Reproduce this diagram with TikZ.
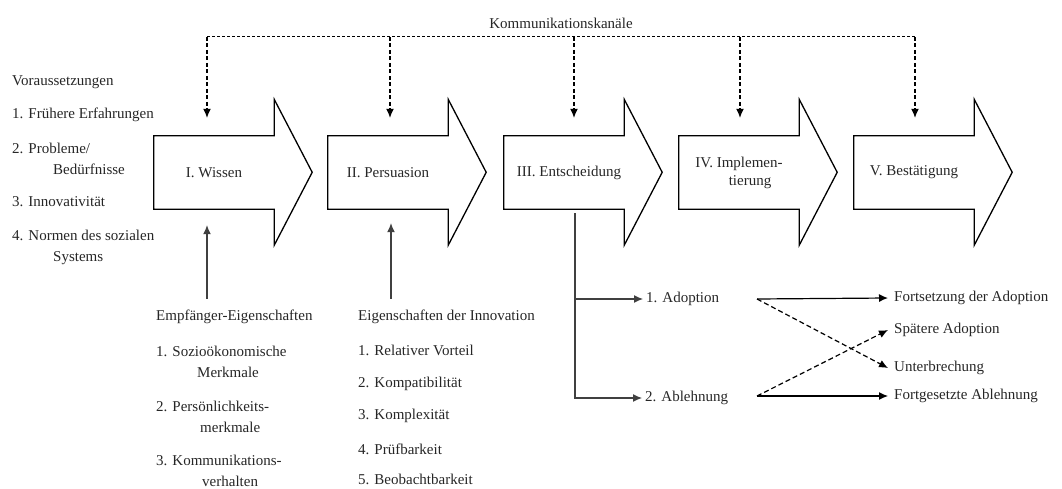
\documentclass[tikz,border=0pt]{standalone}
\usepackage{fontspec}
\setmainfont{Liberation Serif}
\usetikzlibrary{arrows.meta}
\tikzstyle{stagebox}=[font=\fontsize{15}{18}\selectfont, text=black!85, minimum width=120pt, minimum height=73pt, inner sep=0pt, align=center]
\tikzstyle{stage}=[draw, line width=1.3pt, line join=miter]
\tikzstyle{txt}=[font=\fontsize{15}{21.5}\selectfont, text=black!85, inner sep=0pt, anchor=west, align=left]
\tikzstyle{edge}=[draw, line width=1.2pt, -{Latex[length=9pt,width=8pt]}]
\tikzstyle{drop}=[edge, dash pattern=on 4pt off 2.5pt]
\tikzstyle{cross}=[edge, dash pattern=on 5pt off 3pt]
\tikzstyle{channel}=[draw, line width=1pt, dash pattern=on 3pt off 2pt]

\begin{document}
\begin{tikzpicture}[x=1pt, y=-1pt]
    \useasboundingbox (0,0) rectangle (1062,489);

    % the five stages
    \foreach \pos/ \name / \label in {154/wissen/{I. Wissen}, 328/pers/{II. Persuasion}, 504/ents/{\hspace*{10pt}III. Entscheidung}, 679/impl/{IV. Implemen-\\\hspace*{22pt}tierung}, 854/best/{V. Bestätigung}}
    {
        \node[stagebox] (\name) at (\pos+60,172.5) {\label};
        \draw[stage] (\name.north west) -- (\name.north east) -- ++(0,-36.5) -- ++(38,73) -- ++(-38,73) -- (\name.south east) -- (\name.south west) -- cycle;
    }

    % communication channels
    \node[txt, anchor=center] (kanal) at (561,23) {Kommunikationskanäle};
    \coordinate (kstart) at (207,37);
    \coordinate (kend) at (915,37);
    \draw[channel] (kstart) -- (kend);
    \foreach \name/ \dx in {wissen/-7, pers/2, ents/10, impl/1, best/1}
        \draw[drop] ([xshift=\dx pt]\name.north |- kstart) -- ([xshift=\dx pt, yshift=18pt]\name.north);

    % preconditions
    \foreach \pos/ \name / \label in {82/vor/Voraussetzungen, 115/v1/{1. Frühere Erfahrungen}, 159/v2/{2. Probleme/\\\hspace*{41pt}Bedürfnisse}, 202/v3/{3. Innovativität}, 247.5/v4/{4. Normen des sozialen\\\hspace*{41pt}Systems}}
        \node[txt] (\name) at (12,\pos) {\label};

    % receiver characteristics
    \foreach \pos/ \name / \label in {317/empf/Empfänger-Eigenschaften, 362/e1/{1. Sozioökonomische\\\hspace*{41pt}Merkmale}, 417/e2/{2. Persönlichkeits-\\\hspace*{44pt}merkmale}, 471/e3/{3. Kommunikations-\\\hspace*{46pt}verhalten}}
        \node[txt] (\name) at (156,\pos) {\label};

    % characteristics of the innovation
    \foreach \pos/ \name / \label in {317/inno/Eigenschaften der Innovation, 350/i1/{1. Relativer Vorteil}, 384/i2/{2. Kompatibilität}, 416/i3/{3. Komplexität}, 449/i4/{4. Prüfbarkeit}, 479/i5/{5. Beobachtbarkeit}}
        \node[txt] (\name) at (358,\pos) {\label};

    \draw[edge, draw=black!75] ([xshift=-7pt, yshift=11pt]wissen.south |- empf.north) -- ([xshift=-7pt, yshift=-16pt]wissen.south);
    \draw[edge, draw=black!75] ([xshift=3pt, yshift=11pt]pers.south |- inno.north) -- ([xshift=3pt, yshift=-14pt]pers.south);

    % decision
    \node[txt] (ado) at (646,299) {1. Adoption};
    \node[txt] (abl) at (645,398) {2. Ablehnung};
    \coordinate (dec) at ([xshift=11pt, yshift=-4pt]ents.south);
    \draw[edge, draw=black!75] (dec) |- ([xshift=-3pt]ado.west);
    \draw[edge, draw=black!75] (dec) |- ([xshift=-3pt]abl.west);

    % outcomes
    \foreach \pos/ \name / \label in {298/fort/{Fortsetzung der Adoption}, 330/spae/{Spätere Adoption}, 368/unter/Unterbrechung, 396/fgab/{Fortgesetzte Ablehnung}}
        \node[txt] (\name) at (894,\pos) {\label};
    \coordinate (ado-out) at (757,299);
    \coordinate (abl-out) at (757,396);
    \draw[edge] (ado-out) -- ([xshift=-6pt]fort.west);
    \draw[edge] (abl-out) -- ([xshift=-6pt]fgab.west);
    \draw[cross] (ado-out) -- ([xshift=-6pt]unter.west);
    \draw[cross] (abl-out) -- ([xshift=-6pt]spae.west);
\end{tikzpicture}
\end{document}
